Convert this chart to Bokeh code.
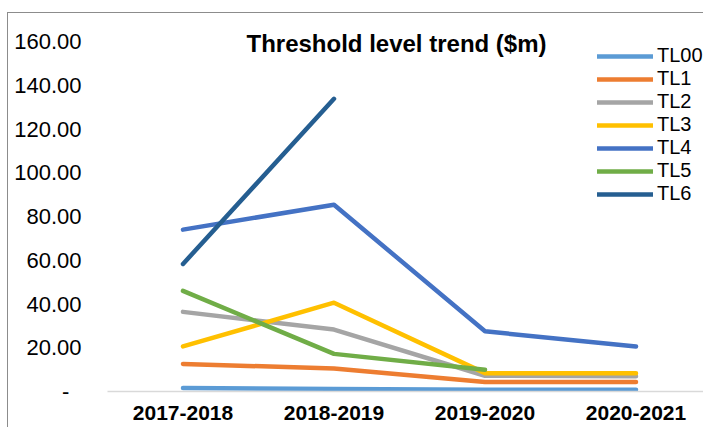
from bokeh.plotting import figure
from bokeh.models import Range1d, FixedTicker, Legend, LegendItem, Label
from bokeh.embed import file_html
from bokeh.resources import INLINE

# ---- data ----
periods = ["2017-2018", "2018-2019", "2019-2020", "2020-2021"]
series_names = ["TL00", "TL1", "TL2", "TL3", "TL4", "TL5", "TL6"]
tl00 = [1.6, 1.2, 0.8, 0.8]
tl1 = [12.6, 10.5, 4.3, 4.3]
tl2 = [36.4, 28.3, 7.2, 7.0]
tl3 = [20.6, 40.6, 8.4, 8.4]
tl4 = [74.0, 85.4, 27.5, 20.6]
tl5 = [46.0, 17.2, 9.9, None]
tl6 = [58.3, 133.8, None, None]
y_ticks = [0, 20, 40, 60, 80, 100, 120, 140, 160]
y_tick_labels = ["-\u00a0\u00a0", "20.00", "40.00", "60.00", "80.00", "100.00", "120.00", "140.00", "160.00"]
title_text = "Threshold level trend ($m)"

colors = ["#5B9BD5", "#ED7D31", "#A5A5A5", "#FFC000", "#4472C4", "#70AD47", "#255E91"]
values = [tl00, tl1, tl2, tl3, tl4, tl5, tl6]

FONT = "Liberation Sans"

p = figure(width=696, height=415, output_backend="svg", toolbar_location=None,
           x_range=Range1d(-0.5, 3.4536), y_range=Range1d(0, 169.6),
           min_border_left=99, min_border_right=0, min_border_top=7, min_border_bottom=37)
p.styles = {"margin-top": "12px", "margin-left": "7px",
            "border-top": "1px solid #8c8c8c", "border-left": "1px solid #8c8c8c"}
p.outline_line_color = None
p.background_fill_color = "white"
p.border_fill_color = "white"
p.xgrid.visible = False
p.ygrid.visible = False

xs = list(range(len(periods)))
items = []
for name, vals, col in zip(series_names, values, colors):
    ys = [float("nan") if v is None else v for v in vals]
    r = p.line(xs, ys, line_color=col, line_width=4.5, line_cap="round", line_join="round")
    items.append(LegendItem(label=name, renderers=[r]))

# x axis
xa = p.xaxis[0]
xa.ticker = FixedTicker(ticks=xs)
xa.major_label_overrides = {i: lab for i, lab in enumerate(periods)}
xa.major_label_text_font = FONT
xa.major_label_text_font_size = "21px"
xa.major_label_text_font_style = "bold"
xa.major_label_text_color = "black"
xa.major_label_standoff = 14
xa.axis_line_color = "#D9D9D9"
xa.axis_line_width = 1.5
xa.major_tick_line_color = None
xa.major_tick_out = 0
xa.major_tick_in = 0
xa.minor_tick_line_color = None

# y axis
ya = p.yaxis[0]
ya.ticker = FixedTicker(ticks=y_ticks)
ya.major_label_overrides = {t: lab for t, lab in zip(y_ticks, y_tick_labels)}
ya.major_label_text_font = FONT
ya.major_label_text_font_size = "22px"
ya.major_label_text_color = "black"
ya.major_label_standoff = 26
ya.axis_line_color = None
ya.major_tick_line_color = None
ya.major_tick_out = 0
ya.major_tick_in = 0
ya.minor_tick_line_color = None

legend = Legend(items=items, location=(490, 186), orientation="vertical",
                glyph_width=56, glyph_height=22, label_height=22, spacing=0,
                label_standoff=4, padding=0, margin=0,
                label_text_font=FONT, label_text_font_size="20px",
                label_text_color="black",
                border_line_alpha=0, background_fill_alpha=0)
p.add_layout(legend, "center")

title = Label(x=1.414, y=159.0, text=title_text, text_align="center", text_baseline="middle",
              text_font=FONT, text_font_size="24px", text_font_style="bold", text_color="black")
p.add_layout(title)

open("out.html", "w").write(file_html(p, INLINE))
